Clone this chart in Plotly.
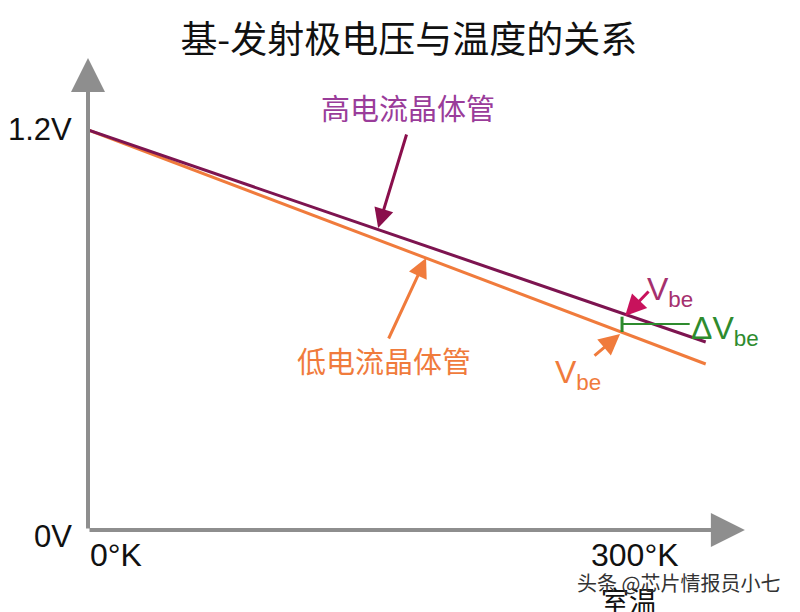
import plotly.graph_objects as go

# ---- data (temperature in K, voltage in V) ----
temps = [0, 347]
vbe_high = [1.2, 0.564]   # 高电流晶体管
vbe_low = [1.2, 0.498]    # 低电流晶体管
room_temp = 300
delta_v = [0.594, 0.640]  # ΔVbe marker span at room temp
delta_level = 0.618
delta_end = 338

x_tick_vals = [0, 307]
x_tick_text = ["0°K", "300°K"]
y_tick_vals = [1.2, 0.0]
y_tick_text = ["1.2V", "0V"]

x_axis_end = 369
y_axis_end = 1.416

X_RANGE = [0, 377.5]
Y_RANGE = [0, 1.47]

PURPLE_LINE = "#7d1450"
ORANGE = "#f07b3c"
GREEN = "#2e8b2e"
AXIS = "#8e8e8e"
CJK = "Noto Sans CJK SC"
LAT = "Liberation Sans"


def px_(x):
    return (x - X_RANGE[0]) / (X_RANGE[1] - X_RANGE[0])


def py_(y):
    return (y - Y_RANGE[0]) / (Y_RANGE[1] - Y_RANGE[0])


fig = go.Figure()

fig.add_trace(go.Scatter(x=temps, y=vbe_low, mode="lines",
                         line=dict(color=ORANGE, width=3), hoverinfo="skip"))
fig.add_trace(go.Scatter(x=temps, y=vbe_high, mode="lines",
                         line=dict(color=PURPLE_LINE, width=3), hoverinfo="skip"))
fig.add_trace(go.Scatter(x=[room_temp, room_temp], y=delta_v, mode="lines",
                         line=dict(color=GREEN, width=3), hoverinfo="skip"))
fig.add_trace(go.Scatter(x=[room_temp, delta_end], y=[delta_level, delta_level], mode="lines",
                         line=dict(color=GREEN, width=2), hoverinfo="skip"))

ann = []
# axis arrows
ann.append(dict(x=x_axis_end, y=0, ax=0, ay=0, xref="x", yref="y", axref="x", ayref="y",
                showarrow=True, arrowhead=2, arrowsize=1.7, arrowwidth=4, arrowcolor=AXIS, text=""))
ann.append(dict(x=0, y=y_axis_end, ax=0, ay=0, xref="x", yref="y", axref="x", ayref="y",
                showarrow=True, arrowhead=2, arrowsize=1.7, arrowwidth=4, arrowcolor=AXIS, text=""))

# tick labels (paper coords so they show outside the plot area)
for xv, t in zip(x_tick_vals, x_tick_text):
    ann.append(dict(x=px_(xv), y=py_(-0.075), xref="paper", yref="paper", text=t, showarrow=False,
                    xanchor="left" if xv == 0 else "center", yanchor="middle",
                    font=dict(family=LAT, size=32, color="#111")))
for yv, t in zip(y_tick_vals, y_tick_text):
    ann.append(dict(x=px_(-8 if yv == 0 else -8), y=py_(yv - (0.02 if yv == 0 else 0)),
                    xref="paper", yref="paper", text=t, showarrow=False,
                    xanchor="right", yanchor="middle",
                    font=dict(family=LAT, size=31, color="#111")))
ann.append(dict(x=px_(304), y=py_(-0.21), xref="paper", yref="paper", text="室温", showarrow=False,
                xanchor="center", yanchor="middle", font=dict(family=CJK, size=28, color="#111")))

# series labels & pointers
ann.append(dict(x=180, y=1.269, xref="x", yref="y", text="高电流晶体管", showarrow=False,
                font=dict(family=CJK, size=29, color="#9a3c9a")))
ann.append(dict(x=163, y=0.906, ax=179.2, ay=1.191, xref="x", yref="y", axref="x", ayref="y",
                showarrow=True, arrowhead=2, arrowsize=1.3, arrowwidth=3, arrowcolor="#8a0f4c", text=""))
ann.append(dict(x=166, y=0.51, xref="x", yref="y", text="低电流晶体管", showarrow=False,
                font=dict(family=CJK, size=29, color=ORANGE)))
ann.append(dict(x=189.9, y=0.816, ax=168.5, ay=0.57, xref="x", yref="y", axref="x", ayref="y",
                showarrow=True, arrowhead=2, arrowsize=1.3, arrowwidth=3, arrowcolor=ORANGE, text=""))

# Vbe labels
ann.append(dict(x=327, y=0.715, xref="x", yref="y", text="V<sub>be</sub>", showarrow=False,
                font=dict(family=LAT, size=32, color="#a5306e")))
ann.append(dict(x=301.7, y=0.642, ax=315.7, ay=0.72, xref="x", yref="y", axref="x", ayref="y",
                showarrow=True, arrowhead=2, arrowsize=1.4, arrowwidth=3, arrowcolor="#c8125c", text=""))
ann.append(dict(x=358, y=0.600, xref="x", yref="y", text="ΔV<sub>be</sub>", showarrow=False,
                font=dict(family=LAT, size=32, color=GREEN)))
ann.append(dict(x=275.5, y=0.468, xref="x", yref="y", text="V<sub>be</sub>", showarrow=False,
                font=dict(family=LAT, size=32, color=ORANGE)))
ann.append(dict(x=298.9, y=0.588, ax=283.7, ay=0.519, xref="x", yref="y", axref="x", ayref="y",
                showarrow=True, arrowhead=2, arrowsize=1.4, arrowwidth=3, arrowcolor=ORANGE, text=""))

# watermark
ann.append(dict(x=0.878, y=-0.108, xref="paper", yref="paper", text="头条 @芯片情报员小七",
                showarrow=False, xanchor="center", yanchor="middle",
                font=dict(family=CJK, size=20, color="#333")))

# page body has an 8px margin: plot area spans page x 88..760, y 40..530
fig.update_layout(
    width=800, height=612,
    margin=dict(l=80, r=48, t=32, b=90, autoexpand=False),
    paper_bgcolor="white", plot_bgcolor="white",
    showlegend=False,
    title=dict(text="基-发射极电压与温度的关系", x=0.501, xanchor="center", y=0.947, yanchor="middle",
               font=dict(family=CJK, size=37, color="#111")),
    xaxis=dict(range=X_RANGE, visible=False, fixedrange=True),
    yaxis=dict(range=Y_RANGE, visible=False, fixedrange=True),
    annotations=ann,
)

fig.write_html("out.html")
